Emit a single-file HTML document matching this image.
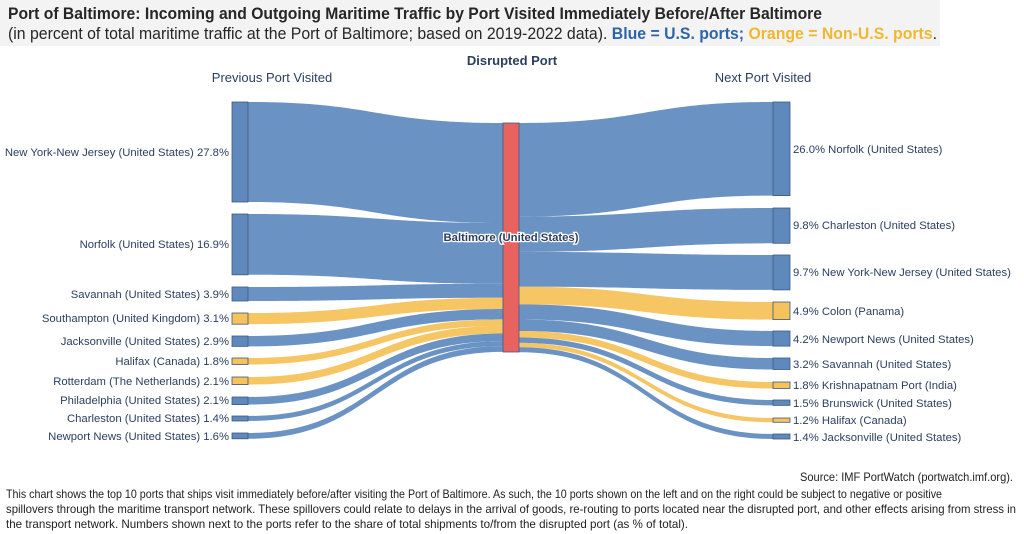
<!DOCTYPE html>
<html><head><meta charset="utf-8"><style>
html,body{margin:0;padding:0;background:#fff;}
svg{display:block;font-family:"Liberation Sans Narrow","Liberation Sans",sans-serif;}
</style></head><body>
<svg width="1024" height="534" viewBox="0 0 1024 534" xmlns="http://www.w3.org/2000/svg">
<rect x="0" y="0" width="940" height="46" fill="#f3f3f3"/>
<text x="8" y="19" font-size="17" font-weight="bold" fill="#262626" textLength="814" lengthAdjust="spacingAndGlyphs">Port of Baltimore: Incoming and Outgoing Maritime Traffic by Port Visited Immediately Before/After Baltimore</text>
<text x="8" y="39" font-size="17" fill="#262626" textLength="929" lengthAdjust="spacingAndGlyphs">(in percent of total maritime traffic at the Port of Baltimore; based on 2019-2022 data). <tspan fill="#2d65a8" font-weight="bold">Blue = U.S. ports;</tspan>  <tspan fill="#f0b830" font-weight="bold">Orange = Non-U.S. ports</tspan>.</text>
<g fill="#2a3f5f" font-size="13">
<text x="512" y="65" text-anchor="middle" font-weight="bold">Disrupted Port</text>
<text x="272" y="82" text-anchor="middle">Previous Port Visited</text>
<text x="763" y="82" text-anchor="middle">Next Port Visited</text>
</g>
<g fill-opacity="0.95">
<path d="M248 102 C375 102,375 123,503 123 L503 223 C375 223,375 202,248 202Z" fill="#628cbf"/>
<path d="M248 214 C375 214,375 223,503 223 L503 283.8 C375 283.8,375 274.8,248 274.8Z" fill="#628cbf"/>
<path d="M248 287 C375 287,375 283.8,503 283.8 L503 297.8 C375 297.8,375 301,248 301Z" fill="#628cbf"/>
<path d="M248 313 C375 313,375 297.8,503 297.8 L503 309 C375 309,375 324.2,248 324.2Z" fill="#f5c25c"/>
<path d="M248 336 C375 336,375 309,503 309 L503 319.4 C375 319.4,375 346.4,248 346.4Z" fill="#628cbf"/>
<path d="M248 358 C375 358,375 319.4,503 319.4 L503 325.9 C375 325.9,375 364.5,248 364.5Z" fill="#f5c25c"/>
<path d="M248 377 C375 377,375 325.9,503 325.9 L503 333.5 C375 333.5,375 384.6,248 384.6Z" fill="#f5c25c"/>
<path d="M248 397 C375 397,375 333.5,503 333.5 L503 341.1 C375 341.1,375 404.6,248 404.6Z" fill="#628cbf"/>
<path d="M248 416 C375 416,375 341.1,503 341.1 L503 346.1 C375 346.1,375 421,248 421Z" fill="#628cbf"/>
<path d="M248 433 C375 433,375 346.1,503 346.1 L503 351.9 C375 351.9,375 438.8,248 438.8Z" fill="#628cbf"/>
<path d="M519 123 C646 123,646 102,773 102 L773 195.6 C646 195.6,646 216.6,519 216.6Z" fill="#628cbf"/>
<path d="M519 216.6 C646 216.6,646 208,773 208 L773 243.3 C646 243.3,646 251.9,519 251.9Z" fill="#628cbf"/>
<path d="M519 251.9 C646 251.9,646 255,773 255 L773 289.9 C646 289.9,646 286.8,519 286.8Z" fill="#628cbf"/>
<path d="M519 286.8 C646 286.8,646 302,773 302 L773 319.6 C646 319.6,646 304.4,519 304.4Z" fill="#f5c25c"/>
<path d="M519 304.4 C646 304.4,646 331,773 331 L773 346.1 C646 346.1,646 319.5,519 319.5Z" fill="#628cbf"/>
<path d="M519 319.5 C646 319.5,646 358,773 358 L773 369.5 C646 369.5,646 331,519 331Z" fill="#628cbf"/>
<path d="M519 331 C646 331,646 382,773 382 L773 388.5 C646 388.5,646 337.5,519 337.5Z" fill="#f5c25c"/>
<path d="M519 337.5 C646 337.5,646 400,773 400 L773 405.4 C646 405.4,646 342.9,519 342.9Z" fill="#628cbf"/>
<path d="M519 342.9 C646 342.9,646 418,773 418 L773 422.3 C646 422.3,646 347.2,519 347.2Z" fill="#f5c25c"/>
<path d="M519 347.2 C646 347.2,646 434,773 434 L773 439 C646 439,646 352.2,519 352.2Z" fill="#628cbf"/>
</g>
<g stroke="#3d5a80" stroke-width="0.8">
<rect x="232" y="102" width="16" height="100" fill="#5f88bc"/>
<rect x="232" y="214" width="16" height="60.8" fill="#5f88bc"/>
<rect x="232" y="287" width="16" height="14" fill="#5f88bc"/>
<rect x="232" y="313" width="16" height="11.2" fill="#f5c25c"/>
<rect x="232" y="336" width="16" height="10.4" fill="#5f88bc"/>
<rect x="232" y="358" width="16" height="6.5" fill="#f5c25c"/>
<rect x="232" y="377" width="16" height="7.6" fill="#f5c25c"/>
<rect x="232" y="397" width="16" height="7.6" fill="#5f88bc"/>
<rect x="232" y="416" width="16" height="5" fill="#5f88bc"/>
<rect x="232" y="433" width="16" height="5.8" fill="#5f88bc"/>
<rect x="503" y="123" width="16" height="229" fill="#e8635f"/>
<rect x="773" y="102" width="17" height="93.6" fill="#5f88bc"/>
<rect x="773" y="208" width="17" height="35.3" fill="#5f88bc"/>
<rect x="773" y="255" width="17" height="34.9" fill="#5f88bc"/>
<rect x="773" y="302" width="17" height="17.6" fill="#f5c25c"/>
<rect x="773" y="331" width="17" height="15.1" fill="#5f88bc"/>
<rect x="773" y="358" width="17" height="11.5" fill="#5f88bc"/>
<rect x="773" y="382" width="17" height="6.5" fill="#f5c25c"/>
<rect x="773" y="400" width="17" height="5.4" fill="#5f88bc"/>
<rect x="773" y="418" width="17" height="4.3" fill="#f5c25c"/>
<rect x="773" y="434" width="17" height="5" fill="#5f88bc"/>
</g>
<g font-size="11.3" fill="#2a3f5f" font-family="Liberation Sans, sans-serif" text-anchor="end">
<text x="229" y="156">New York-New Jersey (United States) 27.8%</text>
<text x="229" y="248">Norfolk (United States) 16.9%</text>
<text x="229" y="298">Savannah (United States) 3.9%</text>
<text x="229" y="322">Southampton (United Kingdom) 3.1%</text>
<text x="229" y="345">Jacksonville (United States) 2.9%</text>
<text x="229" y="365">Halifax (Canada) 1.8%</text>
<text x="229" y="385">Rotterdam (The Netherlands) 2.1%</text>
<text x="229" y="404">Philadelphia (United States) 2.1%</text>
<text x="229" y="422">Charleston (United States) 1.4%</text>
<text x="229" y="440">Newport News (United States) 1.6%</text>
</g>
<g font-size="11.3" fill="#2a3f5f" font-family="Liberation Sans, sans-serif">
<text x="793" y="153">26.0% Norfolk (United States)</text>
<text x="793" y="229">9.8% Charleston (United States)</text>
<text x="793" y="276">9.7% New York-New Jersey (United States)</text>
<text x="793" y="315">4.9% Colon (Panama)</text>
<text x="793" y="343">4.2% Newport News (United States)</text>
<text x="793" y="368">3.2% Savannah (United States)</text>
<text x="793" y="389">1.8% Krishnapatnam Port (India)</text>
<text x="793" y="407">1.5% Brunswick (United States)</text>
<text x="793" y="424">1.2% Halifax (Canada)</text>
<text x="793" y="441">1.4% Jacksonville (United States)</text>
</g>
<text x="511" y="241" text-anchor="middle" font-family="Liberation Sans, sans-serif" font-size="11.3" font-weight="bold" fill="#2a3f5f" stroke="#fff" stroke-width="2.5" paint-order="stroke">Baltimore (United States)</text>
<g font-size="12" fill="#222">
<text x="1013" y="481" text-anchor="end" textLength="213" lengthAdjust="spacingAndGlyphs">Source: IMF PortWatch (portwatch.imf.org).</text>
<text x="6" y="498" textLength="936" lengthAdjust="spacingAndGlyphs">This chart shows the top 10 ports that ships visit immediately before/after visiting the Port of Baltimore. As such, the 10 ports shown on the left and on the right could be subject to negative or positive</text>
<text x="6" y="513" textLength="1010" lengthAdjust="spacingAndGlyphs">spillovers through the maritime transport network. These spillovers could relate to delays in the arrival of goods, re-routing to ports located near the disrupted port, and other effects arising from stress in</text>
<text x="6" y="528" textLength="682" lengthAdjust="spacingAndGlyphs">the transport network. Numbers shown next to the ports refer to the share of total shipments to/from the disrupted port (as % of total).</text>
</g>
</svg>
</body></html>
